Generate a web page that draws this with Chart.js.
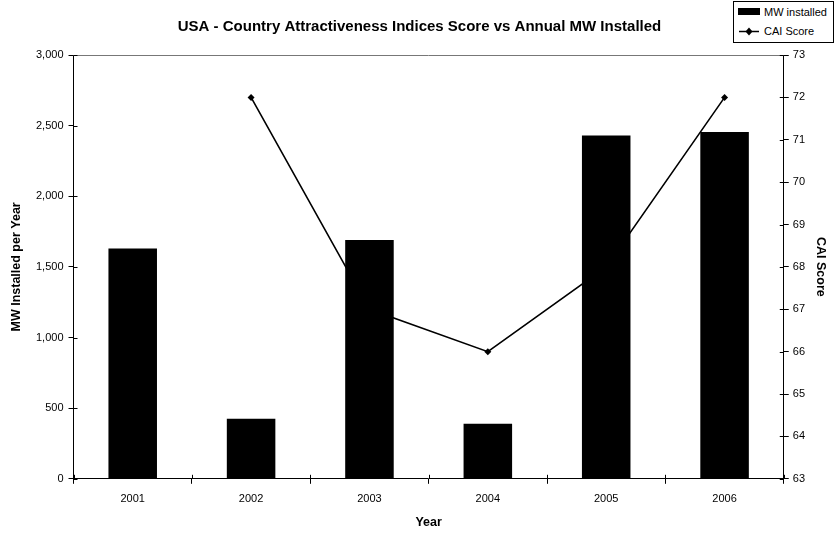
<!DOCTYPE html>
<html>
<head>
<meta charset="utf-8">
<script src="https://cdn.jsdelivr.net/npm/chart.js@4.4.0/dist/chart.umd.min.js"></script>
<style>
  body { margin: 0; background: #fff; }
  #wrap { position: relative; width: 834px; height: 557px; }
  #legend {
    position: absolute; left: 733px; top: 1px; width: 99px; height: 40px;
    border: 1px solid #000; background: #fff;
    font: 11px "Liberation Sans", Arial, sans-serif; color: #000;
  }
  #legend .row { position: absolute; left: 0; height: 14px; line-height: 14px; white-space: nowrap; }
  #legend .sw { position: absolute; left: 4px; top: 0; width: 22px; height: 14px; }
  #legend span { position: absolute; left: 30px; top: 0; }
</style>
</head>
<body>
<div id="wrap">
  <canvas id="myChart" width="834" height="557"></canvas>
  <div id="legend">
    <div class="row" style="top:3px"><canvas class="sw" id="sw1" width="22" height="14"></canvas><span>MW installed</span></div>
    <div class="row" style="top:22px"><canvas class="sw" id="sw2" width="22" height="14"></canvas><span>CAI Score</span></div>
  </div>
</div>
<script>
const years = ["2001", "2002", "2003", "2004", "2005", "2006"];
const mwInstalled = [1630, 425, 1690, 390, 2430, 2455];
const caiScore = [null, 72, 67, 66, 68, 72];

const font = "Liberation Sans, Arial, sans-serif";

// inward tick marks and the thin top border of the plot
const frame = {
  id: "frame",
  afterDraw(chart) {
    const { ctx, chartArea: a, scales } = chart;
    ctx.save();
    ctx.strokeStyle = "#777";
    ctx.lineWidth = 1;
    ctx.beginPath();
    ctx.moveTo(a.left, a.top + 0.5);
    ctx.lineTo(a.right, a.top + 0.5);
    ctx.stroke();

    ctx.strokeStyle = "#000";
    ctx.beginPath();
    scales.y.ticks.forEach(t => {
      const y = Math.round(scales.y.getPixelForValue(t.value)) + 0.5;
      ctx.moveTo(a.left, y); ctx.lineTo(a.left + 4, y);
    });
    scales.y1.ticks.forEach(t => {
      const y = Math.round(scales.y1.getPixelForValue(t.value)) + 0.5;
      ctx.moveTo(a.right - 4, y); ctx.lineTo(a.right, y);
    });
    const step = (a.right - a.left) / years.length;
    for (let i = 0; i <= years.length; i++) {
      const x = Math.round(a.left + i * step) + 0.5;
      ctx.moveTo(x, a.bottom - 4); ctx.lineTo(x, a.bottom);
    }
    ctx.stroke();
    ctx.restore();
  }
};

const ctx = document.getElementById("myChart").getContext("2d");
const myChart = new Chart(ctx, {
  data: {
    labels: years,
    datasets: [
      {
        type: "line",
        label: "CAI Score",
        data: caiScore,
        yAxisID: "y1",
        borderColor: "#000",
        backgroundColor: "#000",
        borderWidth: 1.6,
        pointStyle: "rectRot",
        pointRadius: 3.5,
        pointBorderWidth: 0,
        tension: 0,
        order: 0
      },
      {
        type: "bar",
        label: "MW installed",
        data: mwInstalled,
        yAxisID: "y",
        backgroundColor: "#000",
        borderWidth: 0,
        barPercentage: 0.41,
        categoryPercentage: 1,
        order: 1
      }
    ]
  },
  options: {
    responsive: false,
    animation: false,
    layout: { padding: { left: 5, right: 0, top: 12, bottom: 23 } },
    plugins: {
      legend: { display: false },
      tooltip: { enabled: false },
      title: {
        display: true,
        text: "USA - Country Attractiveness Indices Score vs Annual MW Installed",
        color: "#000",
        font: { family: font, size: 15, weight: "bold" },
        padding: { top: 6, bottom: 19 }
      }
    },
    scales: {
      x: {
        offset: true,
        grid: { offset: true, drawOnChartArea: false, drawTicks: true, tickLength: 5, color: "#000" },
        border: { display: true, color: "#000", width: 1 },
        ticks: { color: "#000", font: { family: font, size: 11 }, padding: 9, maxRotation: 0 },
        title: { display: true, text: "Year", color: "#000", font: { family: font, size: 12.5, weight: "bold" }, padding: { top: 0 } }
      },
      y: {
        position: "left",
        min: 0, max: 3000,
        grid: { drawOnChartArea: false, drawTicks: true, tickLength: 5, color: "#000" },
        border: { display: true, color: "#000", width: 1 },
        ticks: {
          stepSize: 500, color: "#000", font: { family: font, size: 11 }, padding: 5,
          callback: v => v.toLocaleString("en-US")
        },
        title: { display: true, text: "MW Installed per Year", color: "#000", font: { family: font, size: 12.5, weight: "bold" }, padding: { bottom: 7 } }
      },
      y1: {
        position: "right",
        min: 63, max: 73,
        grid: { drawOnChartArea: false, drawTicks: true, tickLength: 5, color: "#000" },
        border: { display: true, color: "#000", width: 1 },
        ticks: { stepSize: 1, color: "#000", font: { family: font, size: 11 }, padding: 4 },
        title: { display: true, text: "CAI Score", color: "#000", font: { family: font, size: 12.5, weight: "bold" }, padding: { top: 6 } }
      }
    }
  },
  plugins: [frame]
});

// legend swatches
const s1 = document.getElementById("sw1").getContext("2d");
s1.fillStyle = "#000";
s1.fillRect(0, 3, 22, 7);
const s2 = document.getElementById("sw2").getContext("2d");
s2.strokeStyle = "#000";
s2.lineWidth = 1.5;
s2.beginPath(); s2.moveTo(1, 7.5); s2.lineTo(21, 7.5); s2.stroke();
s2.fillStyle = "#000";
s2.beginPath(); s2.moveTo(11, 3.5); s2.lineTo(14.5, 7.5); s2.lineTo(11, 11.5); s2.lineTo(7.5, 7.5); s2.closePath(); s2.fill();
</script>
</body>
</html>
